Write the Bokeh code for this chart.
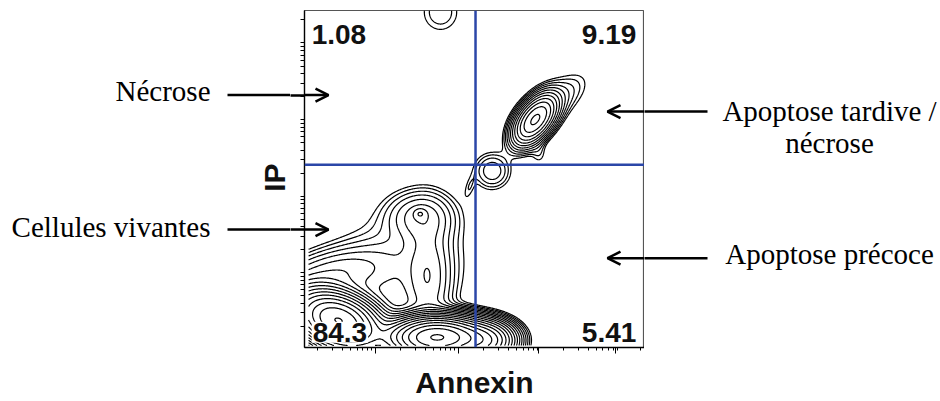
import numpy as np
from bokeh.plotting import figure
from bokeh.layouts import row
from bokeh.models import Label, Arrow, OpenHead, Span, FixedTicker, Range1d
from bokeh.embed import file_html
from bokeh.resources import INLINE

# ---------------- data ----------------
quad_text = ["1.08", "9.19", "84.3", "5.41"]          # UL, UR, LL, LR percentages
gate_annexin = 50.3                                    # vertical gate (channel units 0..100)
gate_ip = 54.2                                         # horizontal gate

# cell populations seen in the contour plot (centre, spread, tilt, relative density)
pop_annexin = [39.0, 10.0, 53.0, 8.0, 34.0, 36.5, 26.0, 34.0, 66.2, 69.4, 75.0, 69.0, 55.2, 48.5, 40.0]
pop_ip = [3.0, 8.0, 2.0, 22.0, 39.0, 20.0, 22.0, 39.7, 65.9, 69.2, 74.0, 57.5, 52.4, 47.5, 99.5]
pop_sd_annexin = [7.0, 6.5, 4.5, 10.0, 6.0, 4.0, 13.0, 1.2, 3.1, 3.1, 5.5, 1.6, 3.4, 1.2, 4.2]
pop_sd_ip = [3.0, 4.5, 3.0, 4.5, 4.5, 11.0, 11.0, 1.0, 3.7, 3.7, 5.0, 2.5, 3.4, 2.5, 4.5]
pop_tilt = [0.0, -0.35, 0.0, 0.35, 0.0, 0.0, 0.2, 0.0, 0.4, 0.4, 0.6, 0.0, 0.0, 0.5, 0.0]
pop_density = [440.0, 220.0, 90.0, 6.0, 5.5, 5.5, 3.0, 4.0, 25.0, 25.0, 2.5, 1.2, 3.6, 1.15, 1.9]

contour_base = 1.0
contour_ratio = 1.4
contour_count = 19

x_decades = [20.9, 45.3, 68.8, 91.5]                   # Annexin decade ticks
y_decades = [-0.5, 22.2, 44.9, 67.6, 90.4]             # IP decade ticks

left_notes = ["Nécrose", "Cellules vivantes"]
left_note_y = [76.2, 35.9]
left_arrow_y = [74.9, 35.0]
right_notes = ["Apoptose tardive /", "nécrose", "Apoptose précoce"]
right_note_y = [70.3, 60.8, 27.6]
right_arrow_y = [70.0, 26.5]

# ---------------- density grid ----------------
xs = np.linspace(1.2, 100.0, 420)
ys = np.linspace(0.6, 100.0, 420)
X, Y = np.meshgrid(xs, ys)
Z = np.zeros_like(X)
for cx, cy, sx, sy, r, a in zip(pop_annexin, pop_ip, pop_sd_annexin, pop_sd_ip, pop_tilt, pop_density):
    dx = (X - cx) / sx
    dy = (Y - cy) / sy
    Z += a * np.exp(-(dx * dx - 2 * r * dx * dy + dy * dy) / (2 * (1 - r * r)))
levels = contour_base * contour_ratio ** np.arange(contour_count)

# ---------------- geometry (pixels) ----------------
H = 401
FRAME_L, FRAME_R, FRAME_T, FRAME_B = 304, 644, 10, 353
LEFT_W = 290
PX_X = (FRAME_R - FRAME_L) / 100.0

def xdat(px):
    return (px - FRAME_L) / PX_X

# ---------------- main plot ----------------
p = figure(width=FRAME_R - LEFT_W, height=H, x_range=Range1d(0, 100), y_range=Range1d(0, 100),
           output_backend="svg", toolbar_location=None,
           min_border_left=FRAME_L - LEFT_W, min_border_right=0,
           min_border_top=FRAME_T, min_border_bottom=H - FRAME_B)
p.grid.visible = False
p.outline_line_color = "#555555"
p.outline_line_width = 1.2
p.background_fill_color = "white"
p.border_fill_color = "white"

p.contour(xs, ys, Z, levels, line_color="black", line_width=1.2)

blue = "#2b46a8"
p.add_layout(Span(location=gate_annexin, dimension="height", line_color=blue, line_width=2.5))
p.add_layout(Span(location=gate_ip, dimension="width", line_color=blue, line_width=2.5))

def minor_of(decs):
    step = decs[1] - decs[0]
    out = []
    for d in decs:
        for k in range(2, 10):
            v = d + step * np.log10(k)
            if 0 < v < 100:
                out.append(float(v))
    return out

xminor = minor_of([x_decades[0] - (x_decades[1] - x_decades[0])] + x_decades)
yminor = minor_of(y_decades) + [v for v in y_decades if v > 0]
p.xaxis.ticker = FixedTicker(ticks=x_decades, minor_ticks=xminor)
# IP axis: log ticks as minor ticks; the two arrow shafts cross the axis as its major ticks
p.yaxis.ticker = FixedTicker(ticks=left_arrow_y, minor_ticks=yminor)
p.xaxis.major_label_overrides = {v: "" for v in x_decades}
p.yaxis.major_label_overrides = {v: "" for v in left_arrow_y}
for ax in (p.xaxis, p.yaxis):
    ax.major_label_text_font_size = "0px"
    ax.major_label_standoff = 0
    ax.major_tick_in = 0
    ax.minor_tick_in = 0
    ax.axis_line_color = "black"
    ax.axis_line_width = 1.3
    ax.major_tick_line_color = "black"
    ax.minor_tick_line_color = "black"
p.xaxis.major_tick_out = 6
p.xaxis.minor_tick_out = 3
p.yaxis.major_tick_out = FRAME_L - LEFT_W
p.yaxis.major_tick_line_width = 2.5
p.yaxis.minor_tick_out = 4
p.xaxis.axis_label = "Annexin"
p.xaxis.axis_label_text_font = "Liberation Sans"
p.xaxis.axis_label_text_font_style = "bold"
p.xaxis.axis_label_text_font_size = "30px"
p.xaxis.axis_label_text_color = "#111111"
p.xaxis.axis_label_text_line_height = 1.0
p.xaxis.axis_label_standoff = 12

num_font = dict(text_font="Liberation Sans", text_font_style="bold", text_font_size="28px",
                text_color="#111111", text_baseline="middle")
p.add_layout(Label(x=2.1, y=93.0, text=quad_text[0], text_align="left", **num_font))
p.add_layout(Label(x=97.6, y=93.0, text=quad_text[1], text_align="right", **num_font))
p.add_layout(Label(x=2.1, y=4.5, text=quad_text[2], text_align="left",
                   background_fill_color="white", padding=1, **num_font))
p.add_layout(Label(x=97.6, y=4.5, text=quad_text[3], text_align="right", **num_font))

head = dict(size=13, line_width=2.5, line_color="black")
for y in left_arrow_y:
    p.add_layout(Arrow(x_start=0, y_start=y, x_end=xdat(328), y_end=y, line_width=2.5,
                       line_color="black", end=OpenHead(**head)))
for y in right_arrow_y:
    p.add_layout(Arrow(x_start=100, y_start=y, x_end=xdat(607), y_end=y, line_width=2.5,
                       line_color="black", end=OpenHead(**head)))

serif = dict(text_font="Liberation Serif", text_font_size="29px", text_color="black",
             text_baseline="middle")

# side panels share the main plot's frame rows, so they use the same IP range
# ---------------- left panel (notes) ----------------
pl = figure(width=LEFT_W, height=H, x_range=Range1d(xdat(0), xdat(LEFT_W)), y_range=Range1d(0, 100),
            output_backend="svg", toolbar_location=None,
            min_border_left=0, min_border_right=0, min_border_top=FRAME_T, min_border_bottom=H - FRAME_B)
pl.axis.visible = False
pl.grid.visible = False
pl.outline_line_color = None
pl.border_fill_color = "white"
for t, y in zip(left_notes, left_note_y):
    pl.add_layout(Label(x=xdat(210), y=y, text=t, text_align="right", **serif))
for y in left_arrow_y:
    pl.segment(x0=[xdat(227)], y0=[y], x1=[xdat(LEFT_W + 1)], y1=[y], line_width=2.5, line_color="black")
pl.add_layout(Label(x=xdat(274), y=50.4, text="IP", angle=np.pi / 2, text_align="center",
                    text_baseline="middle", text_font="Liberation Sans", text_font_style="bold",
                    text_font_size="30px", text_color="#111111"))

# ---------------- right panel (notes) ----------------
RW = 940 - FRAME_R
pr = figure(width=RW, height=H, x_range=Range1d(xdat(FRAME_R), xdat(940)), y_range=Range1d(0, 100),
            output_backend="svg", toolbar_location=None,
            min_border_left=0, min_border_right=0, min_border_top=FRAME_T, min_border_bottom=H - FRAME_B)
pr.axis.visible = False
pr.grid.visible = False
pr.outline_line_color = None
pr.border_fill_color = "white"
for t, y in zip(right_notes, right_note_y):
    pr.add_layout(Label(x=xdat(829), y=y, text=t, text_align="center", **serif))
for y in right_arrow_y:
    pr.segment(x0=[xdat(707)], y0=[y], x1=[xdat(FRAME_R - 1)], y1=[y], line_width=2.5, line_color="black")

layout = row(pl, p, pr)
open("out.html", "w").write(file_html(layout, INLINE))
